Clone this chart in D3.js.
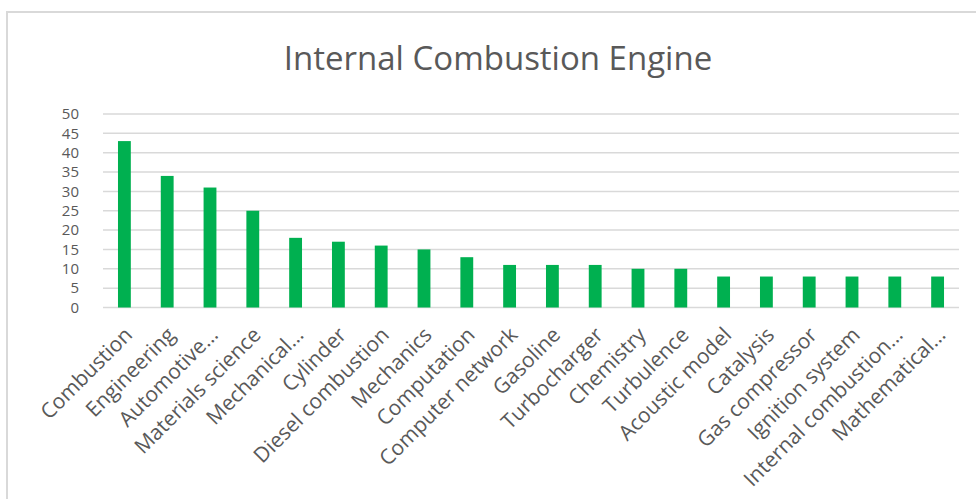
<!DOCTYPE html>
<html>
<head>
<meta charset="utf-8">
<script src="https://cdn.jsdelivr.net/npm/d3@7"></script>
<style>
  body { margin: 0; background: #fff; }
  svg { display: block; }
</style>
</head>
<body>
<div id="chart"></div>
<script>
// data
var categories = ["Combustion", "Engineering", "Automotive…", "Materials science", "Mechanical…",
  "Cylinder", "Diesel combustion", "Mechanics", "Computation", "Computer network", "Gasoline",
  "Turbocharger", "Chemistry", "Turbulence", "Acoustic model", "Catalysis", "Gas compressor",
  "Ignition system", "Internal combustion…", "Mathematical…"];
var counts = [43, 34, 31, 25, 18, 17, 16, 15, 13, 11, 11, 11, 10, 10, 8, 8, 8, 8, 8, 8];
var yTicks = [0, 5, 10, 15, 20, 25, 30, 35, 40, 45, 50];

var W = 976, H = 499;
var plot = {left: 103, right: 959, top: 114, bottom: 307.5};

var svg = d3.select("#chart")
  .append("svg")
    .attr("width", W)
    .attr("height", H);

// chart frame (runs off the right and bottom edge)
svg.append("rect")
  .attr("x", 7).attr("y", 12)
  .attr("width", 1000).attr("height", 520)
  .attr("fill", "none")
  .attr("stroke", "#d9d9d9")
  .attr("stroke-width", 2);

svg.append("text")
  .attr("x", 498).attr("y", 70)
  .attr("text-anchor", "middle")
  .style("font-family", "Open Sans")
  .style("font-size", "33px")
  .style("fill", "#595959")
  .text("Internal Combustion Engine");

var x = d3.scaleBand()
  .domain(categories)
  .range([plot.left, plot.right])
  .paddingInner(0.7)
  .paddingOuter(0.35);

var y = d3.scaleLinear()
  .domain([0, 50])
  .range([plot.bottom, plot.top]);

// gridlines
svg.append("g")
  .selectAll("line")
  .data(yTicks)
  .enter()
  .append("line")
    .attr("x1", plot.left).attr("x2", plot.right)
    .attr("y1", function (d) { return y(d); })
    .attr("y2", function (d) { return y(d); })
    .attr("stroke", "#d9d9d9")
    .attr("stroke-width", 1.5);

// y labels
svg.append("g")
  .selectAll("text")
  .data(yTicks)
  .enter()
  .append("text")
    .attr("x", 79)
    .attr("y", function (d) { return y(d); })
    .attr("dy", "0.35em")
    .attr("text-anchor", "end")
    .style("font-family", "Open Sans")
    .style("font-size", "15px")
    .style("fill", "#595959")
    .text(function (d) { return d; });

// bars
svg.append("g")
  .selectAll("rect")
  .data(counts)
  .enter()
  .append("rect")
    .attr("x", function (d, i) { return x(categories[i]); })
    .attr("y", function (d) { return y(d); })
    .attr("width", x.bandwidth())
    .attr("height", function (d) { return y(0) - y(d); })
    .attr("fill", "#00b050");

// x labels, rotated
svg.append("g")
  .selectAll("text")
  .data(categories)
  .enter()
  .append("text")
    .attr("transform", function (d) {
      return "translate(" + (x(d) + x.bandwidth() / 2 + 4) + "," + 331 + ") rotate(-45)";
    })
    .attr("text-anchor", "end")
    .attr("dy", "0.35em")
    .style("font-family", "Open Sans")
    .style("font-size", "21px")
    .style("fill", "#595959")
    .text(function (d) { return d; });
</script>
</body>
</html>
